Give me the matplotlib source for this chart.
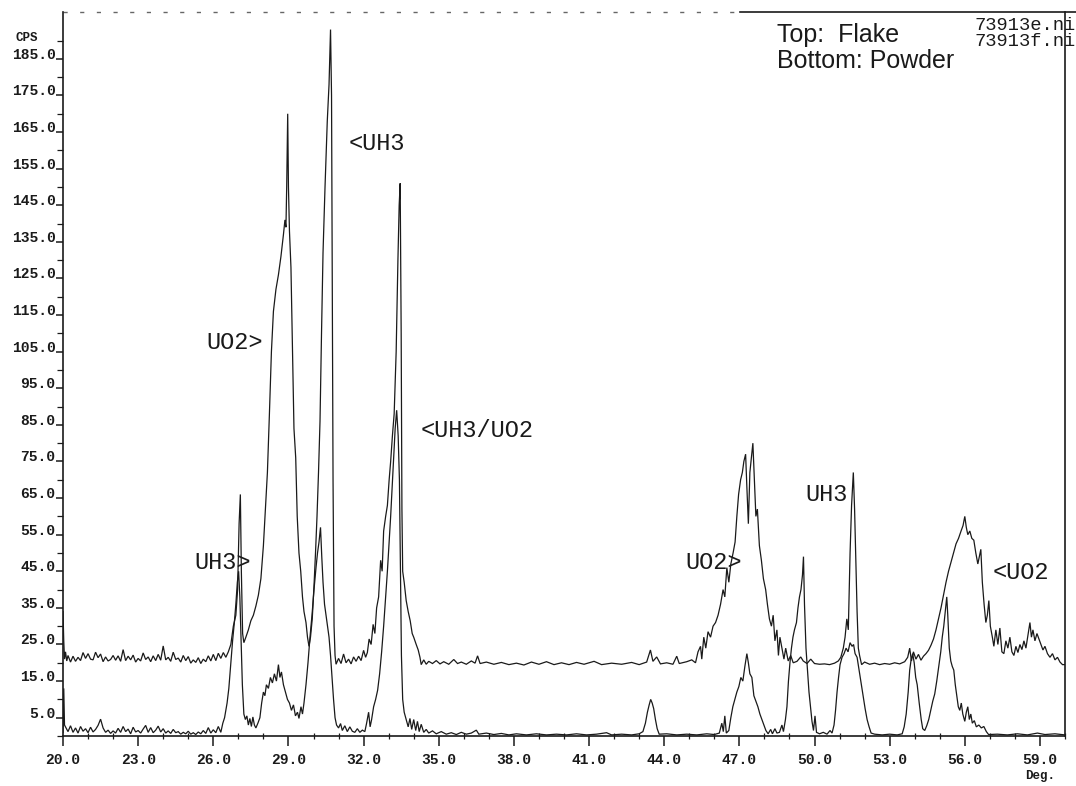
import matplotlib
matplotlib.use("Agg")
import matplotlib.pyplot as plt
import numpy as np

# 2-theta scan, flake sample (upper trace), (deg, cps)
flake = [
    (20.0, 34), (20.03, 26), (20.06, 21), (20.1, 23), (20.15, 20.5), (20.2, 22), (20.3, 20.2),
    (20.4, 21.8), (20.5, 20.4), (20.6, 21.5), (20.7, 20.6), (20.8, 22.8), (20.9, 21.2), (21.0, 22.5),
    (21.1, 21.0), (21.2, 20.8), (21.3, 22.9), (21.4, 21.4), (21.5, 22.4), (21.6, 20.3), (21.7, 21.6),
    (21.8, 20.5), (21.9, 20.9), (22.0, 22.0), (22.1, 20.7), (22.2, 21.9), (22.3, 20.4), (22.4, 23.6),
    (22.5, 20.6), (22.6, 21.8), (22.7, 20.8), (22.8, 22.1), (22.9, 20.2), (23.0, 21.2), (23.1, 20.5),
    (23.2, 22.7), (23.3, 20.9), (23.4, 21.6), (23.5, 20.3), (23.6, 21.9), (23.7, 20.6), (23.8, 22.3),
    (23.9, 20.7), (24.0, 24.6), (24.1, 20.8), (24.2, 21.5), (24.3, 20.4), (24.4, 22.9), (24.5, 20.9),
    (24.6, 21.3), (24.7, 20.2), (24.8, 22.0), (24.9, 20.6), (25.0, 21.7), (25.1, 19.9), (25.2, 20.8),
    (25.3, 20.1), (25.4, 21.4), (25.5, 19.8), (25.6, 21.0), (25.7, 20.3), (25.8, 21.9), (25.9, 20.5),
    (26.0, 22.3), (26.1, 20.6), (26.2, 22.6), (26.3, 21.2), (26.4, 22.8), (26.5, 21.5), (26.6, 23.0),
    (26.7, 25), (26.8, 30), (26.9, 33), (26.97, 40), (27.03, 58), (27.08, 66), (27.12, 45),
    (27.17, 28), (27.22, 25.5), (27.3, 27), (27.4, 29), (27.5, 31.5), (27.6, 33), (27.7, 35.5),
    (27.8, 38.5), (27.9, 43), (28.0, 52), (28.08, 62), (28.16, 72), (28.24, 88), (28.32, 105),
    (28.4, 116), (28.5, 122), (28.6, 126), (28.7, 131), (28.8, 137), (28.86, 141), (28.9, 139),
    (28.93, 150), (28.97, 170), (29.0, 150), (29.04, 138), (29.1, 128), (29.16, 106), (29.22, 84),
    (29.29, 76), (29.35, 60), (29.42, 50), (29.49, 45), (29.56, 38), (29.62, 34), (29.7, 31),
    (29.76, 27), (29.82, 24.5), (29.88, 27), (29.95, 32), (30.02, 41), (30.08, 50), (30.14, 60),
    (30.2, 72), (30.26, 86), (30.32, 110), (30.38, 132), (30.46, 150), (30.55, 168), (30.62, 178),
    (30.68, 193), (30.72, 175), (30.75, 120), (30.78, 70), (30.82, 30), (30.86, 22), (30.9, 19.6),
    (31.0, 21.2), (31.1, 19.8), (31.2, 22.4), (31.3, 20.0), (31.4, 21.0), (31.5, 19.7), (31.6, 21.6),
    (31.7, 20.4), (31.8, 21.8), (31.9, 20.6), (32.0, 23.4), (32.08, 21.5), (32.15, 22.8), (32.22, 26.5),
    (32.3, 25), (32.38, 30.5), (32.45, 28), (32.52, 35), (32.6, 38), (32.68, 48), (32.74, 45),
    (32.8, 56), (32.88, 60), (32.95, 63), (33.02, 70), (33.08, 75), (33.15, 82), (33.22, 88),
    (33.3, 105), (33.37, 130), (33.42, 145), (33.46, 151), (33.5, 110), (33.53, 62), (33.56, 45),
    (33.62, 42), (33.7, 37), (33.78, 34), (33.86, 31.5), (33.94, 28), (34.0, 27), (34.1, 25),
    (34.18, 23.5), (34.25, 21.5), (34.3, 19.5), (34.4, 20.8), (34.5, 19.6), (34.6, 20.4), (34.75, 19.8),
    (34.9, 20.6), (35.05, 19.7), (35.2, 20.3), (35.4, 19.6), (35.6, 20.9), (35.75, 19.8), (35.9, 20.2),
    (36.1, 19.6), (36.3, 20.5), (36.45, 19.9), (36.55, 21.9), (36.65, 19.8), (36.9, 20.2), (37.2, 19.6),
    (37.5, 20.1), (37.8, 19.5), (38.1, 19.9), (38.4, 19.4), (38.7, 20.2), (39.0, 19.6), (39.3, 20.3),
    (39.6, 19.5), (39.9, 20.0), (40.2, 19.5), (40.5, 20.1), (40.8, 19.6), (41.2, 20.4), (41.5, 19.5),
    (41.9, 19.9), (42.3, 19.6), (42.7, 20.1), (43.0, 19.5), (43.3, 20.2), (43.45, 23.5), (43.55, 20.4),
    (43.7, 21.6), (43.85, 19.7), (44.1, 20.0), (44.35, 19.6), (44.5, 21.8), (44.6, 19.8), (44.9, 20.3),
    (45.1, 20.8), (45.25, 20.0), (45.35, 23.0), (45.45, 24.5), (45.5, 21), (45.58, 27), (45.66, 24),
    (45.75, 28.5), (45.85, 27), (45.95, 30), (46.05, 31), (46.15, 33), (46.25, 36), (46.35, 40),
    (46.42, 38), (46.5, 46), (46.58, 42), (46.66, 47), (46.75, 50), (46.83, 53), (46.9, 60),
    (46.97, 66), (47.05, 70), (47.12, 72), (47.18, 75), (47.25, 77), (47.3, 68), (47.36, 58),
    (47.42, 72), (47.48, 76), (47.54, 80), (47.6, 70), (47.66, 60), (47.72, 62), (47.8, 52),
    (47.88, 48), (47.96, 43), (48.05, 40), (48.12, 36), (48.2, 32), (48.28, 30), (48.35, 33),
    (48.42, 26), (48.5, 29), (48.56, 22), (48.62, 27), (48.7, 24), (48.78, 21), (48.85, 24),
    (48.95, 20.5), (49.05, 22), (49.15, 20), (49.3, 20.4), (49.45, 21.6), (49.55, 20.5), (49.7, 19.8),
    (49.85, 21.0), (50.0, 19.8), (50.2, 19.6), (50.4, 19.7), (50.6, 19.5), (50.8, 19.9), (50.95, 20.5),
    (51.05, 21.5), (51.15, 24), (51.22, 27), (51.29, 32), (51.35, 29), (51.42, 50), (51.48, 63),
    (51.55, 72), (51.6, 62), (51.65, 48), (51.7, 34), (51.75, 24), (51.8, 22), (51.88, 19.5),
    (52.0, 20.2), (52.2, 19.6), (52.4, 19.9), (52.6, 19.5), (52.8, 19.8), (53.0, 19.6), (53.2, 20.0),
    (53.4, 19.7), (53.6, 20.3), (53.72, 21.5), (53.8, 24), (53.87, 20.5), (53.95, 23), (54.05, 21),
    (54.15, 22.3), (54.25, 20.7), (54.35, 21.8), (54.45, 22.5), (54.55, 23.4), (54.65, 24.8),
    (54.75, 26.5), (54.85, 29), (54.95, 32), (55.05, 35), (55.15, 38.5), (55.25, 42), (55.35, 45),
    (55.45, 47.5), (55.55, 50), (55.65, 52.5), (55.75, 54), (55.85, 56), (55.93, 57.5), (56.0, 60),
    (56.06, 57), (56.12, 55), (56.2, 56), (56.28, 54), (56.36, 53.5), (56.44, 50), (56.52, 47),
    (56.58, 49), (56.64, 51), (56.7, 42), (56.77, 36), (56.84, 31), (56.9, 33), (56.96, 37),
    (57.02, 30), (57.1, 27), (57.16, 24.5), (57.24, 29), (57.32, 25), (57.4, 29.5), (57.48, 23),
    (57.56, 22.5), (57.64, 26), (57.72, 24), (57.8, 27), (57.88, 23), (57.96, 22), (58.04, 24.5),
    (58.12, 22.8), (58.2, 25), (58.28, 23.6), (58.36, 26), (58.44, 24), (58.52, 27.5), (58.6, 31),
    (58.66, 27), (58.72, 29), (58.8, 26), (58.88, 28), (58.96, 26.5), (59.04, 25), (59.12, 23.5),
    (59.2, 24.5), (59.3, 22.5), (59.4, 21.5), (59.5, 22.5), (59.6, 20.8), (59.7, 21.5), (59.8, 20.2),
    (59.9, 19.5), (60.0, 19.5),
]

# powder sample (lower trace)
powder = [
    (20.0, 1), (20.03, 13), (20.06, 3), (20.1, 2.5), (20.2, 1.2), (20.3, 2.8), (20.4, 1.0), (20.5, 2.2),
    (20.6, 0.8), (20.7, 2.6), (20.8, 1.3), (20.9, 2.0), (21.0, 0.9), (21.1, 2.4), (21.2, 1.1), (21.3, 1.8),
    (21.4, 2.9), (21.5, 4.6), (21.6, 2.2), (21.7, 1.0), (21.8, 1.6), (21.9, 0.7), (22.0, 1.4), (22.1, 0.8),
    (22.2, 2.1), (22.3, 1.0), (22.4, 2.6), (22.5, 1.2), (22.6, 1.9), (22.7, 0.6), (22.8, 2.4), (22.9, 1.1),
    (23.0, 1.5), (23.1, 0.8), (23.2, 1.9), (23.3, 2.9), (23.4, 1.0), (23.5, 2.3), (23.6, 0.9), (23.7, 1.6),
    (23.8, 2.7), (23.9, 1.1), (24.0, 2.0), (24.1, 0.8), (24.2, 1.4), (24.3, 0.7), (24.4, 1.8), (24.5, 0.9),
    (24.6, 1.2), (24.7, 0.5), (24.8, 1.0), (24.9, 0.6), (25.0, 1.3), (25.1, 0.5), (25.2, 0.9), (25.3, 0.4),
    (25.4, 1.1), (25.5, 0.6), (25.6, 1.5), (25.7, 0.7), (25.8, 2.3), (25.9, 0.8), (26.0, 1.7), (26.1, 0.9),
    (26.2, 2.6), (26.3, 1.0), (26.38, 3.5), (26.45, 5), (26.55, 9), (26.62, 13), (26.7, 20), (26.77, 26),
    (26.84, 31), (26.9, 36), (26.96, 42), (27.01, 45), (27.06, 38), (27.11, 26), (27.16, 14), (27.22, 6),
    (27.28, 4.5), (27.34, 5.5), (27.4, 3), (27.46, 4.8), (27.52, 2.6), (27.58, 5.2), (27.64, 3.0),
    (27.7, 2.2), (27.78, 3.5), (27.86, 5), (27.93, 9), (28.0, 12), (28.06, 11), (28.12, 14), (28.2, 13),
    (28.28, 16), (28.36, 14.5), (28.44, 17), (28.52, 15), (28.6, 19.5), (28.66, 16), (28.72, 17.5),
    (28.8, 14), (28.88, 12), (28.96, 10), (29.04, 9), (29.12, 7), (29.2, 8.5), (29.28, 5.5), (29.36, 6.5),
    (29.42, 4.8), (29.5, 8), (29.56, 6), (29.62, 9), (29.7, 14), (29.78, 20), (29.86, 27), (29.94, 33),
    (30.02, 40), (30.1, 46), (30.16, 50), (30.22, 53), (30.28, 57), (30.33, 49), (30.38, 42), (30.44, 36),
    (30.5, 33), (30.56, 30), (30.62, 27), (30.68, 22), (30.74, 16), (30.8, 10), (30.86, 5), (30.92, 3),
    (31.0, 2.2), (31.08, 3.4), (31.15, 1.5), (31.25, 2.8), (31.35, 1.2), (31.45, 2.5), (31.55, 1.3),
    (31.65, 1.0), (31.75, 2.0), (31.85, 1.0), (31.95, 1.6), (32.05, 1.2), (32.12, 3.5), (32.2, 6.5),
    (32.26, 2.5), (32.32, 4.5), (32.4, 8), (32.48, 10), (32.56, 12.5), (32.64, 17), (32.72, 23), (32.8, 30),
    (32.88, 38), (32.95, 45), (33.02, 53), (33.08, 60), (33.14, 68), (33.2, 76), (33.26, 84), (33.32, 89),
    (33.38, 82), (33.43, 70), (33.47, 45), (33.51, 22), (33.56, 10), (33.62, 6.5), (33.7, 4.5), (33.78, 2.5),
    (33.85, 4.8), (33.92, 1.8), (34.0, 4.5), (34.08, 1.5), (34.15, 4.0), (34.22, 1.2), (34.3, 3.2),
    (34.4, 1.0), (34.5, 1.8), (34.6, 0.8), (34.75, 1.4), (34.9, 0.6), (35.1, 1.2), (35.3, 0.5), (35.5, 0.9),
    (35.7, 0.4), (35.9, 1.0), (36.1, 0.5), (36.3, 0.8), (36.5, 1.6), (36.6, 0.5), (36.9, 0.8), (37.2, 0.4),
    (37.5, 0.7), (37.8, 0.3), (38.1, 0.6), (38.5, 0.3), (38.9, 0.6), (39.3, 0.3), (39.7, 0.5), (40.1, 0.3),
    (40.5, 0.6), (40.9, 0.3), (41.3, 0.5), (41.7, 0.9), (41.9, 0.3), (42.3, 0.5), (42.7, 0.3), (43.0, 0.6),
    (43.15, 1.2), (43.25, 3.5), (43.33, 6.5), (43.4, 8.5), (43.46, 10), (43.52, 9), (43.58, 7.5),
    (43.65, 4.5), (43.72, 2), (43.8, 0.5), (44.1, 0.6), (44.5, 0.3), (44.9, 0.5), (45.3, 0.3), (45.7, 0.6),
    (46.0, 0.4), (46.2, 0.8), (46.3, 3.5), (46.36, 1.2), (46.42, 5.5), (46.48, 0.8), (46.58, 1.5),
    (46.66, 5), (46.74, 8), (46.82, 10), (46.9, 12), (46.98, 13.5), (47.06, 16), (47.14, 15), (47.22, 19),
    (47.3, 22.5), (47.36, 20), (47.42, 17), (47.5, 16), (47.58, 11), (47.66, 9.5), (47.74, 8), (47.82, 6),
    (47.9, 4.5), (47.98, 3), (48.06, 1.5), (48.15, 0.6), (48.25, 1.8), (48.32, 0.6), (48.42, 2.0),
    (48.5, 0.8), (48.6, 1.0), (48.7, 3.0), (48.76, 1.2), (48.84, 4.5), (48.9, 8), (48.96, 15), (49.02, 20),
    (49.08, 24), (49.14, 27), (49.2, 29), (49.28, 31), (49.34, 35), (49.4, 38), (49.46, 40), (49.52, 44),
    (49.56, 49), (49.6, 36), (49.66, 24), (49.72, 18), (49.78, 12), (49.84, 8), (49.9, 4), (49.96, 1.5),
    (50.02, 5.5), (50.08, 1.0), (50.2, 0.6), (50.35, 1.0), (50.5, 0.5), (50.62, 1.5), (50.7, 0.8),
    (50.78, 3), (50.84, 7), (50.9, 12), (50.96, 16), (51.02, 19.5), (51.1, 21.5), (51.18, 22.5),
    (51.26, 24), (51.34, 23), (51.42, 25.5), (51.5, 24.5), (51.56, 25), (51.62, 22.5), (51.7, 21.5),
    (51.78, 18), (51.86, 14.5), (51.94, 11), (52.02, 7.5), (52.1, 4.5), (52.18, 2.5), (52.26, 0.8),
    (52.4, 0.5), (52.7, 0.3), (53.0, 0.5), (53.3, 0.3), (53.5, 0.6), (53.58, 2.5), (53.66, 6), (53.74, 12),
    (53.8, 18), (53.86, 21), (53.92, 22.5), (53.98, 20), (54.04, 16), (54.1, 14), (54.18, 9), (54.26, 4.5),
    (54.32, 2), (54.4, 1.5), (54.48, 2.8), (54.56, 4.5), (54.64, 7), (54.72, 9.5), (54.8, 11.5), (54.88, 15),
    (54.96, 19), (55.04, 23), (55.1, 27), (55.16, 30), (55.22, 34), (55.28, 38), (55.32, 33), (55.38, 24),
    (55.44, 20.5), (55.5, 19), (55.56, 18), (55.62, 14), (55.68, 11), (55.74, 8), (55.8, 7), (55.86, 9),
    (55.92, 6), (56.0, 4), (56.06, 6.5), (56.12, 8), (56.18, 4.5), (56.24, 6), (56.3, 3.5), (56.38, 4.2),
    (56.46, 2.5), (56.56, 3.0), (56.66, 2.2), (56.76, 2.6), (56.86, 1.2), (56.95, 0.4), (57.3, 0.5),
    (57.7, 0.3), (58.1, 0.6), (58.5, 0.3), (58.9, 0.8), (59.2, 0.4), (59.6, 0.6), (60.0, 0.3),
]

# peak labels: text, anchor (deg, cps), horizontal alignment
peak_labels = [
    ("<UH3", 31.4, 162, "left"),
    ("UO2>", 27.97, 107.5, "right"),
    ("<UH3/UO2", 34.27, 83.5, "left"),
    ("UH3>", 27.5, 47.5, "right"),
    ("UO2>", 47.1, 47.5, "right"),
    ("UH3", 49.63, 66, "left"),
    ("<UO2", 57.1, 44.8, "left"),
]

x_major = np.arange(20, 60, 3)
y_major = np.arange(5, 190, 10)

mono = "Liberation Mono"
ink = "#1a1a1a"

fig = plt.figure(figsize=(10.76, 7.86), dpi=100)
ax = fig.add_axes([63 / 1076, 50 / 786, 1002 / 1076, 724 / 786])

for trace in (flake, powder):
    deg, cps = zip(*trace)
    ax.plot(deg, cps, color=ink, lw=0.9, solid_joinstyle="miter")

ax.set_xlim(20, 60)
ax.set_ylim(0, 197.8)

ax.set_xticks(x_major)
ax.set_xticklabels([f"{v:.1f}" for v in x_major])
ax.set_xticks(np.arange(20, 61, 1), minor=True)
ax.set_yticks(y_major)
ax.set_yticklabels([f"{v:.1f}" for v in y_major])
ax.set_yticks(np.arange(0, 195, 10), minor=True)

ax.tick_params(axis="x", which="major", direction="out", length=7, width=1.1,
               pad=5, color=ink)
ax.tick_params(axis="x", which="minor", direction="inout", length=5, width=0.9, color=ink)
ax.tick_params(axis="y", which="major", direction="out", length=5, width=1.1,
               pad=0.5, color=ink)
ax.tick_params(axis="y", which="minor", direction="out", length=4, width=0.9, color=ink)

for lbl in ax.get_xticklabels() + ax.get_yticklabels():
    lbl.set_fontfamily(mono)
    lbl.set_fontweight("bold")
    lbl.set_fontsize(10.5)
    lbl.set_color(ink)
for lbl in ax.get_yticklabels():
    lbl.set_verticalalignment("baseline")

for side in ("left", "bottom", "right"):
    ax.spines[side].set_color(ink)
    ax.spines[side].set_linewidth(1.2)
ax.spines["top"].set_visible(False)

# top border: faint broken line on the left, solid on the right
ax.plot([0, 0.676], [1, 1], transform=ax.transAxes, color="#666666", lw=1.0,
        ls=(0, (3, 9)), clip_on=False)
ax.plot([0.676, 1.02], [1, 1], transform=ax.transAxes, color=ink, lw=1.2,
        clip_on=False)

for text, x, y, ha in peak_labels:
    ax.text(x, y, text, ha=ha, va="center", fontfamily=mono, fontsize=17, color=ink)

fig.text(15 / 1076, 1 - 38 / 786, "CPS", fontfamily=mono, fontweight="bold",
         fontsize=9, va="center", ha="left", color=ink)
fig.text(1040 / 1076, 1 - 776 / 786, "Deg.", fontfamily=mono, fontweight="bold",
         fontsize=9, va="center", ha="center", color=ink)

fig.text(777 / 1076, 1 - 35 / 786, "Top:  Flake", fontfamily="Liberation Sans",
         fontsize=18, va="center", ha="left", color=ink)
fig.text(777 / 1076, 1 - 61 / 786, "Bottom: Powder", fontfamily="Liberation Sans",
         fontsize=18, va="center", ha="left", color=ink)
fig.text(975 / 1076, 1 - 25 / 786, "73913e.ni", fontfamily=mono,
         fontsize=13.5, va="center", ha="left", color=ink)
fig.text(975 / 1076, 1 - 41 / 786, "73913f.ni", fontfamily=mono,
         fontsize=13.5, va="center", ha="left", color=ink)

fig.savefig("out.png", dpi=100, facecolor="white")
